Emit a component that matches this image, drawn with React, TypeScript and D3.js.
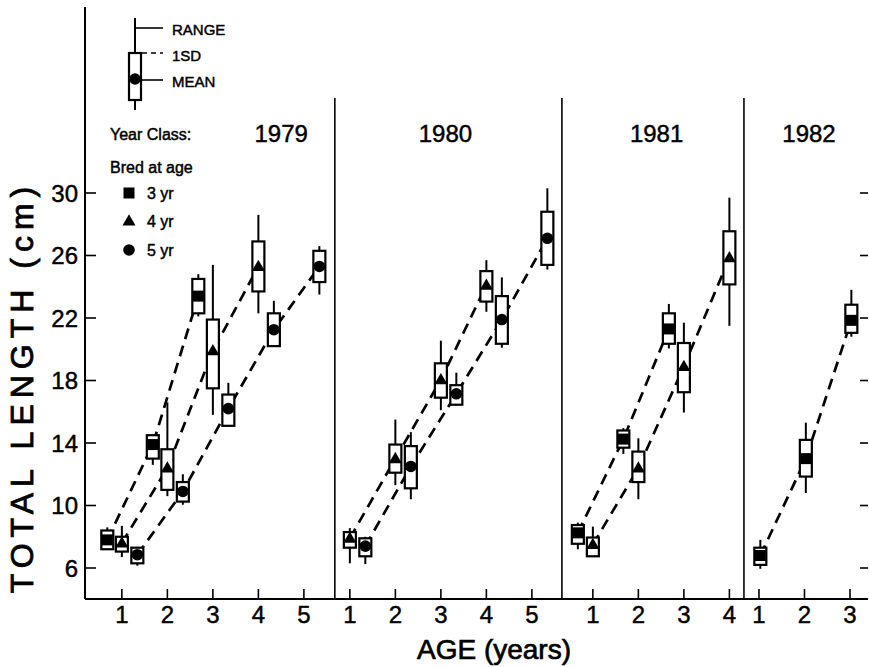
import React from "react";
import * as d3 from "d3";

// year classes shown as panels, with the age span each panel covers
const yearClasses = ["1979", "1980", "1981", "1982"];
const panelAgeSpan = [[0.19, 5.68], [0.67, 5.66], [0.32, 4.32], [0.67, 3.33]];
const ageTicks = [[1, 2, 3, 4, 5], [1, 2, 3, 4, 5], [1, 2, 3, 4], [1, 2, 3]];
const lengthTicks = [6, 10, 14, 18, 22, 26, 30];
const bredLabels = ["3 yr", "4 yr", "5 yr"];

// each row = one age (1, 2, 3 ...): [mean, sdLow, sdHigh, min, max]
const yc1979_bred3 = [
  [7.8, 7.2, 8.4, 7.2, 8.6],
  [13.9, 13.0, 14.5, 12.6, 14.5],
  [23.4, 22.3, 24.5, 22.1, 24.8],
];
const yc1979_bred4 = [
  [7.6, 7.05, 8.0, 6.7, 8.7],
  [12.4, 11.0, 13.6, 10.6, 16.6],
  [19.9, 17.5, 21.9, 15.8, 25.4],
  [25.3, 23.7, 26.9, 22.3, 28.6],
];
const yc1979_bred5 = [
  [6.85, 6.3, 7.3, 6.15, 7.35],
  [10.9, 10.25, 11.5, 10.05, 12.0],
  [16.2, 15.1, 17.1, 15.1, 17.85],
  [21.25, 20.2, 22.3, 20.2, 23.1],
  [25.3, 24.3, 26.3, 23.5, 26.6],
];
const yc1980_bred4 = [
  [7.9, 7.3, 8.3, 6.3, 8.55],
  [13.0, 12.1, 13.9, 11.3, 15.5],
  [18.05, 16.9, 19.1, 16.1, 20.55],
  [24.1, 23.05, 25.0, 22.4, 25.7],
];
const yc1980_bred5 = [
  [7.4, 6.75, 7.9, 6.25, 8.0],
  [12.5, 11.1, 13.8, 10.4, 14.7],
  [17.15, 16.45, 17.7, 16.4, 18.5],
  [21.9, 20.35, 23.4, 20.1, 24.6],
  [27.1, 25.4, 28.8, 25.1, 30.3],
];
const yc1981_bred3 = [
  [8.25, 7.55, 8.75, 7.2, 8.9],
  [14.25, 13.7, 14.8, 13.3, 14.95],
  [21.3, 20.35, 22.3, 20.05, 22.9],
];
const yc1981_bred4 = [
  [7.5, 6.75, 7.95, 6.75, 8.65],
  [12.4, 11.5, 13.45, 10.4, 14.3],
  [18.9, 17.25, 20.4, 15.95, 21.7],
  [25.85, 24.15, 27.55, 21.5, 29.7],
];
const yc1982_bred3 = [
  [6.8, 6.2, 7.3, 5.95, 7.8],
  [13.0, 11.85, 14.2, 10.8, 15.3],
  [21.85, 21.05, 22.85, 20.8, 23.8],
];

// which "bred at age" group (0=3yr,1=4yr,2=5yr) each panel series is
const panelSeries = [
  [[0, yc1979_bred3], [1, yc1979_bred4], [2, yc1979_bred5]],
  [[1, yc1980_bred4], [2, yc1980_bred5]],
  [[0, yc1981_bred3], [1, yc1981_bred4]],
  [[0, yc1982_bred3]],
];

// layout
const W = 869, H = 667;
const left = 85, right = 865, axisY = 599, dividerTop = 98;
const seriesShift = [[-0.32, 0, 0.34], [0, 0.34], [-0.33, 0], [0.03]];
const titleAge = [4.5, 3.1, 2.4, 2.1];
const font = "'Liberation Sans', Arial, sans-serif";
const boxW = 12;
// slight outline so the text reads as heavy as the scanned lettering
const ink = { fill: "black", stroke: "black", strokeWidth: 0.45 };

const y = d3.scaleLinear().domain([6, 30]).range([568, 193]);

const widths = panelAgeSpan.map(d => d[1] - d[0]);
const k = (right - left) / d3.sum(widths);
const xScales = panelAgeSpan.map((span, i) => {
  const x0 = left + k * d3.sum(widths.slice(0, i));
  return d3.scaleLinear().domain(span).range([x0, x0 + k * (span[1] - span[0])]);
});

const Marker = ({ kind, cx, cy }) => {
  if (kind === 0) return <rect x={cx - 5.5} y={cy - 5.5} width={11} height={11} fill="black" />;
  if (kind === 1) {
    const s = 13, h = s * 0.87;
    return <path d={`M ${cx},${cy - h * 0.6} L ${cx + s / 2},${cy + h * 0.4} L ${cx - s / 2},${cy + h * 0.4} Z`} fill="black" />;
  }
  return <circle cx={cx} cy={cy} r={5.8} fill="black" />;
};

const BoxGlyph = ({ cx, stats, kind }) => {
  const [mean, lo, hi] = stats;
  return (
    <g>
      <rect x={cx - boxW / 2} y={y(hi)} width={boxW} height={y(lo) - y(hi)}
        fill="white" stroke="black" strokeWidth={2.2} />
      <Marker kind={kind} cx={cx} cy={y(mean)} />
    </g>
  );
};

const Panel = ({ i }) => {
  const x = xScales[i];
  const series = panelSeries[i].map(([kind, stats], s) => ({
    kind,
    pts: stats.map((d, a) => ({ cx: x(a + 1 + seriesShift[i][s]), stats: d })),
  }));
  const line = d3.line().x(d => d.cx).y(d => y(d.stats[0]));
  return (
    <g>
      {series.map((s, j) =>
        <g key={"r" + j}>
          {s.pts.map((p, a) =>
            <line key={a} x1={p.cx} x2={p.cx} y1={y(p.stats[3])} y2={y(p.stats[4])}
              stroke="black" strokeWidth={2} />)}
        </g>)}
      {series.map((s, j) =>
        <path key={"l" + j} d={line(s.pts)} fill="none" stroke="black"
          strokeWidth={2.7} strokeDasharray="11 7" />)}
      {series.map((s, j) =>
        <g key={"b" + j}>
          {s.pts.map((p, a) => <BoxGlyph key={a} cx={p.cx} stats={p.stats} kind={s.kind} />)}
        </g>)}
      {ageTicks[i].map(t =>
        <g key={t}>
          <line x1={x(t)} x2={x(t)} y1={axisY - 10} y2={axisY} stroke="black" strokeWidth={1.6} />
          <text x={x(t)} y={623} fontSize={24} textAnchor="middle" fontFamily={font} {...ink}>{t}</text>
        </g>)}
      <text x={x(titleAge[i])} y={142} fontSize={24} textAnchor="middle" fontFamily={font} {...ink}>
        {yearClasses[i]}
      </text>
      {i > 0 &&
        <line x1={x.range()[0]} x2={x.range()[0]} y1={dividerTop} y2={axisY}
          stroke="black" strokeWidth={1.6} />}
    </g>
  );
};

const Legend = () => {
  const cx = 135;
  return (
    <g fontFamily={font}>
      <line x1={cx} x2={cx} y1={18} y2={110} stroke="black" strokeWidth={2} />
      <rect x={cx - boxW / 2} y={53} width={boxW} height={47} fill="white" stroke="black" strokeWidth={2.2} />
      <circle cx={cx} cy={79} r={5.8} fill="black" />
      <line x1={cx} x2={163} y1={28} y2={28} stroke="black" strokeWidth={1.6} />
      <line x1={cx + 7} x2={163} y1={53} y2={53} stroke="black" strokeWidth={1.6} strokeDasharray="5 4" />
      <line x1={cx + 6} x2={163} y1={80} y2={80} stroke="black" strokeWidth={1.6} />
      <text x={172} y={35} fontSize={15} {...ink}>RANGE</text>
      <text x={172} y={61} fontSize={15} {...ink}>1SD</text>
      <text x={172} y={87} fontSize={15} {...ink}>MEAN</text>
      <text x={110} y={140} fontSize={16} {...ink}>Year Class:</text>
      <text x={110} y={173} fontSize={16} {...ink}>Bred at age</text>
      {bredLabels.map((b, j) => {
        const my = [193, 221, 250][j];
        return (
          <g key={b}>
            <Marker kind={j} cx={129} cy={my} />
            <text x={147} y={my + 6} fontSize={16} {...ink}>{b}</text>
          </g>
        );
      })}
    </g>
  );
};

const App = () => (
  <svg width={W} height={H} style={{ position: "absolute", left: 0, top: 0, background: "white" }}>
    <rect width={W} height={H} fill="white" />
    <line x1={left} x2={left} y1={7} y2={axisY} stroke="black" strokeWidth={2} />
    <line x1={left} x2={868} y1={axisY} y2={axisY} stroke="black" strokeWidth={2} />
    {lengthTicks.map(t =>
      <g key={t}>
        <line x1={left} x2={left + 11} y1={y(t)} y2={y(t)} stroke="black" strokeWidth={1.6} />
        <line x1={right - 5} x2={868} y1={y(t)} y2={y(t)} stroke="black" strokeWidth={1.6} />
        <text x={78} y={y(t) + 8.5} fontSize={24} textAnchor="end" fontFamily={font} {...ink}>{t}</text>
      </g>)}
    <text transform="translate(33, 387) rotate(-90)" fontSize={32} letterSpacing={6}
      textAnchor="middle" fontFamily={font} {...ink} strokeWidth={0.8}>TOTAL LENGTH (cm)</text>
    <text x={494} y={659} fontSize={28} textAnchor="middle" fontFamily={font} {...ink} strokeWidth={0.7}>AGE (years)</text>
    <Legend />
    {yearClasses.map((_, i) => <Panel key={i} i={i} />)}
  </svg>
);

export default App;
